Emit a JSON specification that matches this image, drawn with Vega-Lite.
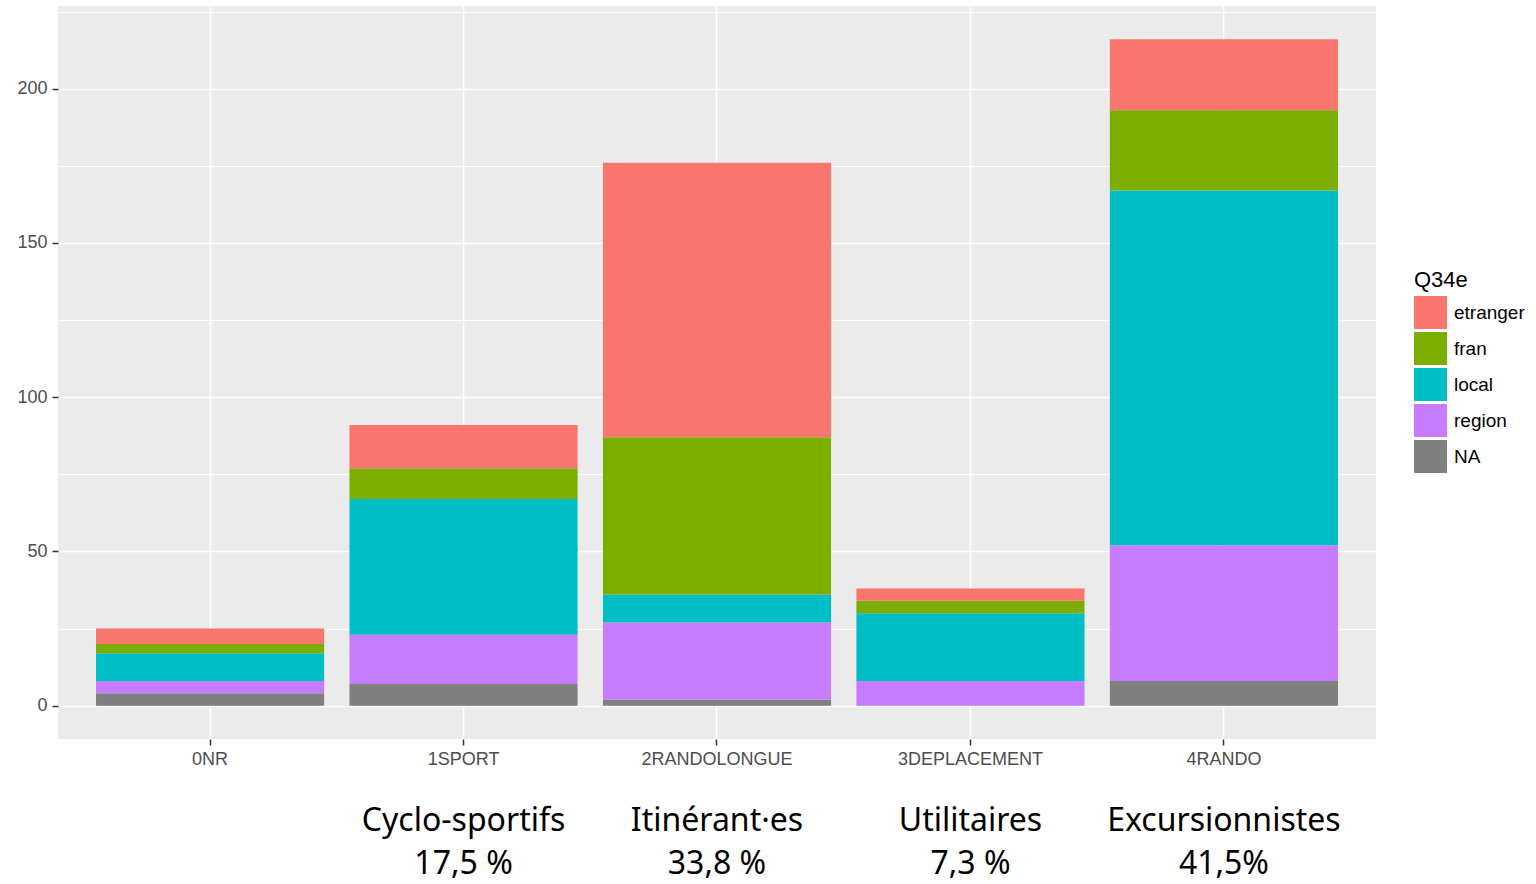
{
  "$schema": "https://vega.github.io/schema/vega-lite/v6.json",
  "width": 1318,
  "height": 733,
  "autosize": {"type": "none"},
  "padding": {"left": 58, "top": 6, "right": 160, "bottom": 145},
  "background": "white",
  "config": {
    "view": {"fill": "#EBEBEB", "stroke": null},
    "font": "Liberation Sans"
  },
  "layer": [
    {
      "data": {
        "values": [
          {"cat": "0NR", "Q34e": "NA", "n": 4, "ord": 1},
          {"cat": "0NR", "Q34e": "region", "n": 4, "ord": 2},
          {"cat": "0NR", "Q34e": "local", "n": 9, "ord": 3},
          {"cat": "0NR", "Q34e": "fran", "n": 3, "ord": 4},
          {"cat": "0NR", "Q34e": "etranger", "n": 5, "ord": 5},
          {"cat": "1SPORT", "Q34e": "NA", "n": 7, "ord": 1},
          {"cat": "1SPORT", "Q34e": "region", "n": 16, "ord": 2},
          {"cat": "1SPORT", "Q34e": "local", "n": 44, "ord": 3},
          {"cat": "1SPORT", "Q34e": "fran", "n": 10, "ord": 4},
          {"cat": "1SPORT", "Q34e": "etranger", "n": 14, "ord": 5},
          {"cat": "2RANDOLONGUE", "Q34e": "NA", "n": 2, "ord": 1},
          {"cat": "2RANDOLONGUE", "Q34e": "region", "n": 25, "ord": 2},
          {"cat": "2RANDOLONGUE", "Q34e": "local", "n": 9, "ord": 3},
          {"cat": "2RANDOLONGUE", "Q34e": "fran", "n": 51, "ord": 4},
          {"cat": "2RANDOLONGUE", "Q34e": "etranger", "n": 89, "ord": 5},
          {"cat": "3DEPLACEMENT", "Q34e": "region", "n": 8, "ord": 2},
          {"cat": "3DEPLACEMENT", "Q34e": "local", "n": 22, "ord": 3},
          {"cat": "3DEPLACEMENT", "Q34e": "fran", "n": 4, "ord": 4},
          {"cat": "3DEPLACEMENT", "Q34e": "etranger", "n": 4, "ord": 5},
          {"cat": "4RANDO", "Q34e": "NA", "n": 8, "ord": 1},
          {"cat": "4RANDO", "Q34e": "region", "n": 44, "ord": 2},
          {"cat": "4RANDO", "Q34e": "local", "n": 115, "ord": 3},
          {"cat": "4RANDO", "Q34e": "fran", "n": 26, "ord": 4},
          {"cat": "4RANDO", "Q34e": "etranger", "n": 23, "ord": 5}
        ]
      },
      "mark": {"type": "bar"},
      "encoding": {
        "x": {
          "field": "cat",
          "type": "nominal",
          "sort": null,
          "scale": {
            "domain": ["0NR", "1SPORT", "2RANDOLONGUE", "3DEPLACEMENT", "4RANDO"],
            "paddingInner": 0.1,
            "paddingOuter": 0.15
          },
          "axis": {
            "title": null,
            "labelAngle": 0,
            "domain": false,
            "grid": true,
            "gridColor": "white",
            "gridWidth": 1.6,
            "bandPosition": 0.5,
            "tickColor": "#333333",
            "tickSize": 6,
            "tickWidth": 1.5,
            "labelColor": "#4D4D4D",
            "labelFont": "Liberation Sans",
            "labelFontSize": 18,
            "labelPadding": 5
          }
        },
        "y": {
          "field": "n",
          "type": "quantitative",
          "stack": "zero",
          "scale": {"domain": [-10.8, 226.8], "nice": false, "zero": false},
          "axis": {
            "title": null,
            "domain": false,
            "values": [0, 25, 50, 75, 100, 125, 150, 175, 200, 225],
            "labelExpr": "datum.value % 50 === 0 ? datum.label : ''",
            "grid": true,
            "gridColor": "white",
            "gridWidth": {"condition": {"test": "datum.value % 50 === 0", "value": 1.6}, "value": 0.9},
            "tickOpacity": {"condition": {"test": "datum.value % 50 === 0", "value": 1}, "value": 0},
            "tickColor": "#333333",
            "tickSize": 6,
            "tickWidth": 1.5,
            "labelColor": "#4D4D4D",
            "labelFont": "Liberation Sans",
            "labelFontSize": 18,
            "labelPadding": 5
          }
        },
        "color": {
          "field": "Q34e",
          "type": "nominal",
          "scale": {
            "domain": ["etranger", "fran", "local", "region", "NA"],
            "range": ["#F8766D", "#7CAE00", "#00BFC4", "#C77CFF", "#7F7F7F"]
          },
          "legend": {
            "title": "Q34e",
            "orient": "none",
            "legendX": 1356,
            "legendY": 264,
            "titleFont": "Liberation Sans",
            "titleFontSize": 22,
            "titleFontWeight": "normal",
            "titleColor": "black",
            "titlePadding": 4,
            "labelFont": "Liberation Sans",
            "labelFontSize": 19,
            "labelColor": "black",
            "labelOffset": 7,
            "labelBaseline": "middle",
            "symbolType": "square",
            "symbolSize": 1089,
            "symbolStrokeWidth": 0,
            "symbolOpacity": 1,
            "rowPadding": 3,
            "padding": 0
          }
        },
        "order": {"field": "ord", "type": "quantitative", "sort": "ascending"}
      }
    },
    {
      "data": {
        "values": [
          {"cat": "1SPORT", "t": ["Cyclo-sportifs", "17,5 %"]},
          {"cat": "2RANDOLONGUE", "t": ["Itinérant·es", "33,8 %"]},
          {"cat": "3DEPLACEMENT", "t": ["Utilitaires", "7,3 %"]},
          {"cat": "4RANDO", "t": ["Excursionnistes", "41,5%"]}
        ]
      },
      "mark": {
        "type": "text",
        "font": "Noto Sans",
        "fontSize": 32,
        "color": "black",
        "baseline": "alphabetic",
        "align": "center",
        "lineHeight": 43
      },
      "encoding": {
        "x": {"field": "cat", "type": "nominal"},
        "y": {"datum": -40.6, "type": "quantitative"},
        "text": {"field": "t"}
      }
    }
  ]
}
